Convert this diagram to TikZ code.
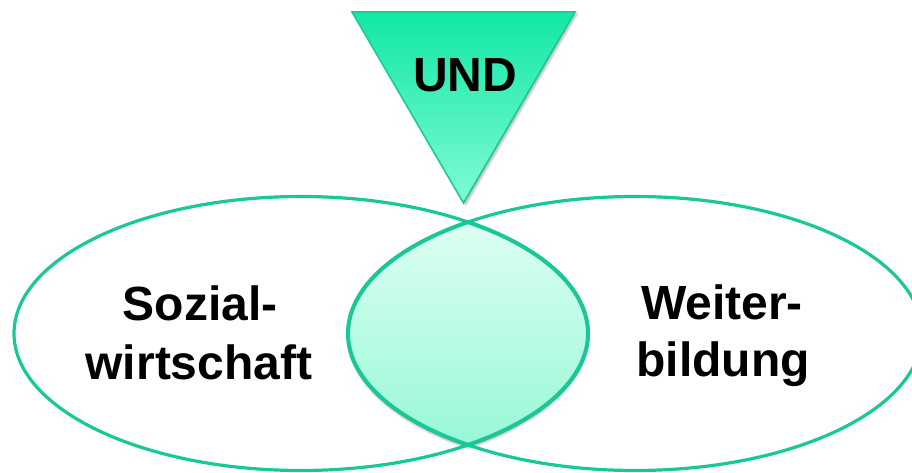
\documentclass[tikz,border=0pt]{standalone}
\usepackage{fontspec}
\setmainfont{Liberation Sans}
\usetikzlibrary{shadows.blur,shapes.geometric}
\definecolor{strokeG}{RGB}{24,200,150}
\definecolor{triTop}{RGB}{18,232,166}
\definecolor{triBot}{RGB}{128,250,212}
\definecolor{lensTop}{RGB}{220,255,242}
\definecolor{lensBot}{RGB}{152,248,214}
\tikzset{
  setline/.style={draw=strokeG, line width=3.2pt},
  label/.style={font=\fontsize{48}{60}\selectfont\bfseries, text=black, inner sep=0pt, anchor=base},
}
\begin{document}
\begin{tikzpicture}[x=1pt,y=1pt]
\useasboundingbox (0,0) rectangle (912,473);
% lens (intersection)
\shade[top color=lensTop, bottom color=lensBot,
  blur shadow={shadow xshift=0pt, shadow yshift=-3pt, shadow blur steps=6, shadow opacity=35}]
  (468,250.9) arc[start angle=125.58, end angle=234.42, x radius=287pt, y radius=137pt]
  arc[start angle=-54.42, end angle=54.42, x radius=287pt, y radius=137pt] -- cycle;
\draw[strokeG, line width=4pt, line join=miter]
  (468,250.9) arc[start angle=125.58, end angle=234.42, x radius=287pt, y radius=137pt]
  arc[start angle=-54.42, end angle=54.42, x radius=287pt, y radius=137pt] -- cycle;
% ellipses
\node[setline, ellipse, minimum width=574pt, minimum height=274pt, inner sep=0pt] (left) at (301,139.5) {};
\node[setline, ellipse, minimum width=574pt, minimum height=274pt, inner sep=0pt] (right) at (635,139.5) {};
% triangle
\shade[top color=triTop, bottom color=triBot, draw=strokeG, line width=1.5pt, line join=miter,
  blur shadow={shadow xshift=2pt, shadow yshift=-2pt, shadow blur steps=5, shadow opacity=30}]
  (352,461) -- (575,461) -- (463.5,270) -- cycle;
\node[label] (und) at (465,381) {UND};
\node[label] (soz1) at (200,152) {Sozial-};
\node[label] (soz2) at (199,93) {wirtschaft};
\node[label] (wb1) at (722,153) {Weiter-};
\node[label] (wb2) at (723,96) {bildung};
\end{tikzpicture}
\end{document}
